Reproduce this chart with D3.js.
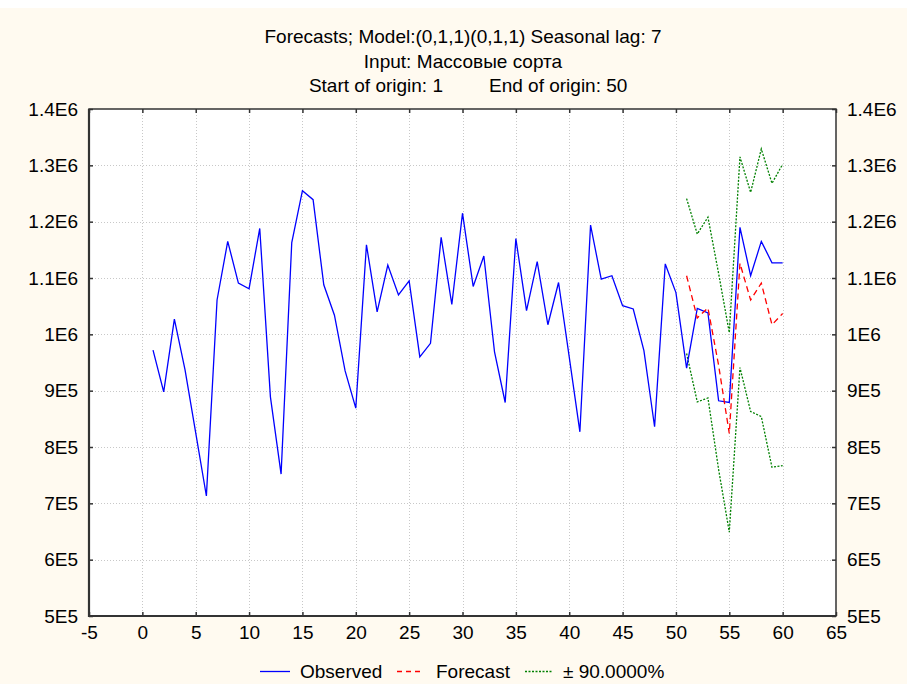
<!DOCTYPE html>
<html>
<head>
<meta charset="utf-8">
<script src="https://cdn.jsdelivr.net/npm/d3@7"></script>
<style>
body { margin:0; background:#fff; }
text { font-family: "Liberation Sans", Arial, sans-serif; fill:#000; }
</style>
</head>
<body>
<script>
var width = 907, height = 684;

// data
var obsT = d3.range(1, 61);
var observed = [9.72e5, 8.98e5, 1.027e6, 9.37e5, 8.25e5, 7.13e5, 1.061e6, 1.165e6, 1.091e6, 1.081e6,
  1.188e6, 8.89e5, 7.52e5, 1.163e6, 1.255e6, 1.239e6, 1.088e6, 1.034e6, 9.35e5, 8.69e5,
  1.159e6, 1.040e6, 1.123e6, 1.070e6, 1.095e6, 9.60e5, 9.84e5, 1.172e6, 1.053e6, 1.215e6,
  1.085e6, 1.139e6, 9.69e5, 8.79e5, 1.170e6, 1.042e6, 1.129e6, 1.017e6, 1.092e6, 9.60e5,
  8.27e5, 1.194e6, 1.098e6, 1.104e6, 1.051e6, 1.045e6, 9.71e5, 8.36e5, 1.125e6, 1.074e6,
  9.40e5, 1.046e6, 1.038e6, 8.82e5, 8.79e5, 1.190e6, 1.104e6, 1.165e6, 1.127e6, 1.127e6];
var fcT = d3.range(51, 61);
var forecast = [1.104e6, 1.029e6, 1.047e6, 9.45e5, 8.24e5, 1.126e6, 1.061e6, 1.091e6, 1.017e6, 1.037e6];
var upper = [1.241e6, 1.178e6, 1.208e6, 1.108e6, 1.003e6, 1.315e6, 1.252e6, 1.329e6, 1.268e6, 1.302e6];
var lower = [9.66e5, 8.80e5, 8.87e5, 7.60e5, 6.49e5, 9.41e5, 8.63e5, 8.54e5, 7.64e5, 7.67e5];

var xTicks = d3.range(-5, 66, 5);
var yTicks = [1.4e6, 1.3e6, 1.2e6, 1.1e6, 1e6, 9e5, 8e5, 7e5, 6e5, 5e5];
var yTickLabels = ["1.4E6", "1.3E6", "1.2E6", "1.1E6", "1E6", "9E5", "8E5", "7E5", "6E5", "5E5"];
var titleLines = ["Forecasts; Model:(0,1,1)(0,1,1) Seasonal lag: 7", "Input: Массовые сорта"];
var legendNames = ["Observed", "Forecast", "± 90.0000%"];

var pLeft = 89, pRight = 836, pTop = 109, pBottom = 616;
var fs = 19;

var svg = d3.select("body").append("svg")
  .attr("width", width)
  .attr("height", height);

svg.append("rect").attr("x", 0).attr("y", 8).attr("width", width).attr("height", height - 8)
  .attr("fill", "#fffaf0");

var x = d3.scaleLinear().domain([-5, 65]).range([pLeft, pRight]);
var y = d3.scaleLinear().domain([5e5, 1.4e6]).range([pBottom, pTop]);

svg.append("rect").attr("x", pLeft).attr("y", pTop)
  .attr("width", pRight - pLeft).attr("height", pBottom - pTop).attr("fill", "#fff");

// grid
var grid = svg.append("g").attr("stroke", "#c8c8c8").attr("stroke-width", 1).attr("stroke-dasharray", "1,2");
grid.selectAll(".vg").data(xTicks.slice(1, -1)).enter().append("line")
  .attr("x1", d => Math.round(x(d)) + 0.5).attr("x2", d => Math.round(x(d)) + 0.5)
  .attr("y1", pTop).attr("y2", pBottom);
grid.selectAll(".hg").data(yTicks.slice(1, -1)).enter().append("line")
  .attr("y1", d => Math.round(y(d)) + 0.5).attr("y2", d => Math.round(y(d)) + 0.5)
  .attr("x1", pLeft).attr("x2", pRight);

// axes
function styleAxis(g) {
  g.select(".domain").remove();
  g.selectAll(".tick line").attr("stroke", "#333").attr("stroke-width", 1.5);
  g.selectAll(".tick text").attr("font-size", fs).attr("font-family", "Liberation Sans, Arial, sans-serif");
}
svg.append("g").attr("transform", "translate(" + pLeft + ",0)")
  .call(d3.axisLeft(y).tickValues(yTicks).tickFormat((d, i) => yTickLabels[i]).tickSize(-4).tickPadding(11))
  .call(styleAxis);
svg.append("g").attr("transform", "translate(" + pRight + ",0)")
  .call(d3.axisRight(y).tickValues(yTicks).tickFormat((d, i) => yTickLabels[i]).tickSize(-4).tickPadding(11))
  .call(styleAxis);
svg.append("g").attr("transform", "translate(0," + pBottom + ")")
  .call(d3.axisBottom(x).tickValues(xTicks).tickFormat(d => String(d)).tickSize(-4).tickPadding(10))
  .call(styleAxis);
svg.append("g").attr("transform", "translate(0," + pTop + ")")
  .call(d3.axisTop(x).tickValues(xTicks).tickFormat("").tickSize(-4))
  .call(styleAxis);

// frame
svg.append("path")
  .attr("d", "M" + pLeft + "," + pTop + "H" + pRight + "V" + pBottom + "H" + pLeft + "Z")
  .attr("fill", "none").attr("stroke", "#333").attr("stroke-width", 1.5);
svg.append("path")
  .attr("d", "M" + pLeft + "," + pTop + "V" + pBottom + "H" + pRight)
  .attr("fill", "none").attr("stroke", "#333").attr("stroke-width", 2.2);

// series
var line = d3.line().x(d => x(d[0])).y(d => y(d[1]));
var plot = svg.append("g");
plot.append("path").datum(d3.zip(fcT, upper)).attr("d", line)
  .attr("fill", "none").attr("stroke", "#008000").attr("stroke-width", 1.3).attr("stroke-dasharray", "2,1.5");
plot.append("path").datum(d3.zip(fcT, lower)).attr("d", line)
  .attr("fill", "none").attr("stroke", "#008000").attr("stroke-width", 1.3).attr("stroke-dasharray", "2,1.5");
plot.append("path").datum(d3.zip(obsT, observed)).attr("d", line)
  .attr("fill", "none").attr("stroke", "#0000ff").attr("stroke-width", 1.3);
plot.append("path").datum(d3.zip(fcT, forecast)).attr("d", line)
  .attr("fill", "none").attr("stroke", "#ff0000").attr("stroke-width", 1.3).attr("stroke-dasharray", "6,4");

// titles
svg.selectAll(".title").data(titleLines).enter().append("text")
  .attr("x", 463).attr("y", (d, i) => 43 + i * 24.5)
  .attr("text-anchor", "middle").attr("font-size", fs).text(d => d);
svg.append("text").attr("x", 443).attr("y", 92).attr("text-anchor", "end").attr("font-size", fs)
  .text("Start of origin: 1");
svg.append("text").attr("x", 489).attr("y", 92).attr("text-anchor", "start").attr("font-size", fs)
  .text("End of origin: 50");

// legend
var legendX = [260, 397, 525];
var legendTextX = [300, 436, 563];
var legendColors = ["#0000ff", "#ff0000", "#008000"];
var legendDash = [null, "5,4", "2,1.5"];
var legendLen = [30, 26, 28];
var lg = svg.append("g");
legendNames.forEach(function(n, i) {
  lg.append("line").attr("x1", legendX[i]).attr("x2", legendX[i] + legendLen[i])
    .attr("y1", 671.5).attr("y2", 671.5)
    .attr("stroke", legendColors[i]).attr("stroke-width", 1.3)
    .attr("stroke-dasharray", legendDash[i]);
  lg.append("text").attr("x", legendTextX[i]).attr("y", 678).attr("font-size", fs).text(n);
});
</script>
</body>
</html>
